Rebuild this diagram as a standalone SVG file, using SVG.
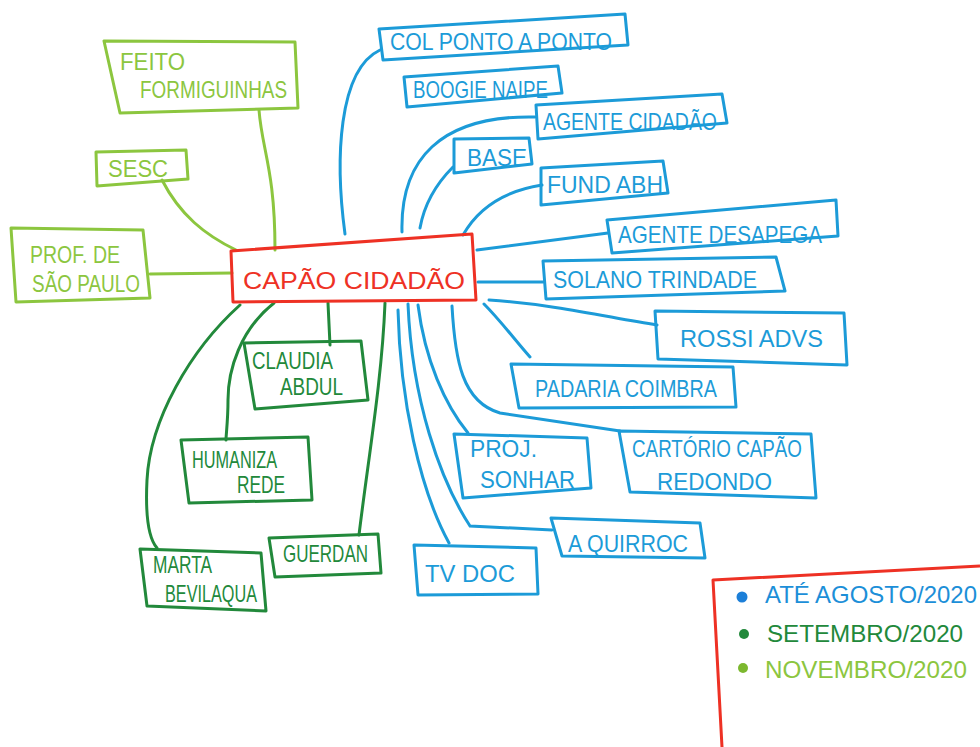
<svg xmlns="http://www.w3.org/2000/svg" width="980" height="747" viewBox="0 0 980 747">
<style>
.box{fill:none;stroke-width:3;stroke-linejoin:round}
.ln{fill:none;stroke-width:3;stroke-linecap:round}
.lime{stroke:#8cc63f}
.dg{stroke:#22893b}
.bl{stroke:#1c9bd8}
.rd{stroke:#ee3124}
text{font-family:"Liberation Sans",Arial,sans-serif;font-size:24px}
.tl{fill:#8cc63f}
.tg{fill:#22893b}
.tb{fill:#1c9bd8}
.tr{fill:#ee3124}
</style>
<rect width="980" height="747" fill="#ffffff"/>
<g id="connectors">
  <path class="ln lime" d="M259,110 C262,150 275,170 275,250"/>
  <path class="ln lime" d="M162,180 C180,215 205,235 236,250"/>
  <path class="ln lime" d="M150,274 L232,273"/>
  <path class="ln dg" d="M240,305 C190,350 150,420 147,480 C145,520 150,540 157,548"/>
  <path class="ln dg" d="M274,303 C240,330 228,370 228,400 C228,420 226,435 226,440"/>
  <path class="ln dg" d="M328,303 L330,345"/>
  <path class="ln dg" d="M385,303 C382,380 368,460 359,535"/>
  <path class="ln bl" d="M345,234 C335,160 338,70 380,50"/>
  <path class="ln bl" d="M402,232 C400,160 440,115 535,117"/>
  <path class="ln bl" d="M420,228 C425,200 440,180 453,167"/>
  <path class="ln bl" d="M463,235 C480,205 510,190 542,185"/>
  <path class="ln bl" d="M477,250 L608,233"/>
  <path class="ln bl" d="M478,282 L543,282"/>
  <path class="ln bl" d="M489,300 C560,305 610,318 657,325"/>
  <path class="ln bl" d="M484,304 C500,320 515,340 530,357"/>
  <path class="ln bl" d="M452,306 C455,360 462,402 500,413 L620,431"/>
  <path class="ln bl" d="M418,305 C425,360 445,405 468,433"/>
  <path class="ln bl" d="M408,304 C412,400 440,480 470,526 L552,530"/>
  <path class="ln bl" d="M398,310 C400,400 420,490 449,543"/>
</g>
<g id="capao-cidadao">
  <polygon class="box rd" points="231,251 472,234 476,300 233,302"/>
  <text class="tr" x="243" y="289" font-size="30" textLength="222" lengthAdjust="spacingAndGlyphs">CAPÃO CIDADÃO</text>
</g>
<g id="feito-formiguinhas">
  <polygon class="box lime" points="104,41 295,42 298,108 120,113"/>
  <text class="tl" x="120" y="70" font-size="20" textLength="65" lengthAdjust="spacingAndGlyphs">FEITO</text>
  <text class="tl" x="140" y="98" font-size="20" textLength="147" lengthAdjust="spacingAndGlyphs">FORMIGUINHAS</text>
</g>
<g id="sesc">
  <polygon class="box lime" points="96,152 186,150 188,179 97,186"/>
  <text class="tl" x="108" y="177" font-size="20" textLength="60" lengthAdjust="spacingAndGlyphs">SESC</text>
</g>
<g id="prof-sao-paulo">
  <polygon class="box lime" points="11,228 143,230 150,298 16,302"/>
  <text class="tl" x="30" y="263" font-size="21" textLength="90" lengthAdjust="spacingAndGlyphs">PROF. DE</text>
  <text class="tl" x="32" y="292" font-size="19" textLength="108" lengthAdjust="spacingAndGlyphs">SÃO PAULO</text>
</g>
<g id="claudia-abdul">
  <polygon class="box dg" points="244,343 361,341 368,400 255,409"/>
  <text class="tg" x="252" y="369" font-size="18" textLength="81" lengthAdjust="spacingAndGlyphs">CLAUDIA</text>
  <text class="tg" x="280" y="395" font-size="15" textLength="63" lengthAdjust="spacingAndGlyphs">ABDUL</text>
</g>
<g id="humaniza-rede">
  <polygon class="box dg" points="181,440 308,437 312,500 189,503"/>
  <text class="tg" x="192" y="468" font-size="19" textLength="85" lengthAdjust="spacingAndGlyphs">HUMANIZA</text>
  <text class="tg" x="237" y="493" font-size="16" textLength="48" lengthAdjust="spacingAndGlyphs">REDE</text>
</g>
<g id="guerdan">
  <polygon class="box dg" points="269,538 378,534 381,573 275,577"/>
  <text class="tg" x="283" y="562" font-size="20" textLength="85" lengthAdjust="spacingAndGlyphs">GUERDAN</text>
</g>
<g id="marta-bevilaqua">
  <polygon class="box dg" points="140,549 261,553 266,611 147,606"/>
  <text class="tg" x="153" y="573" font-size="15" textLength="59" lengthAdjust="spacingAndGlyphs">MARTA</text>
  <text class="tg" x="165" y="602" font-size="21" textLength="92" lengthAdjust="spacingAndGlyphs">BEVILAQUA</text>
</g>
<g id="col-ponto-a-ponto">
  <polygon class="box bl" points="379,29 625,14 628,45 383,60"/>
  <text class="tb" x="390" y="50" font-size="26" textLength="222" lengthAdjust="spacingAndGlyphs">COL PONTO A PONTO</text>
</g>
<g id="boogie-naipe">
  <polygon class="box bl" points="404,77 558,66 562,93 407,107"/>
  <text class="tb" x="413" y="98" font-size="22" textLength="135" lengthAdjust="spacingAndGlyphs">BOOGIE NAIPE</text>
</g>
<g id="agente-cidadao">
  <polygon class="box bl" points="536,105 722,94 727,123 538,139"/>
  <text class="tb" x="543" y="130" font-size="23" textLength="174" lengthAdjust="spacingAndGlyphs">AGENTE CIDADÃO</text>
</g>
<g id="base">
  <polygon class="box bl" points="454,139 529,138 532,164 454,173"/>
  <text class="tb" x="467" y="166" font-size="24" textLength="60" lengthAdjust="spacingAndGlyphs">BASE</text>
</g>
<g id="fund-abh">
  <polygon class="box bl" points="541,168 663,161 668,193 541,205"/>
  <text class="tb" x="547" y="193" font-size="22" textLength="116" lengthAdjust="spacingAndGlyphs">FUND ABH</text>
</g>
<g id="agente-desapega">
  <polygon class="box bl" points="607,220 836,200 838,236 612,253"/>
  <text class="tb" x="618" y="243" font-size="24" textLength="204" lengthAdjust="spacingAndGlyphs">AGENTE DESAPEGA</text>
</g>
<g id="solano-trindade">
  <polygon class="box bl" points="543,261 776,257 785,291 546,299"/>
  <text class="tb" x="553" y="288" font-size="23" textLength="204" lengthAdjust="spacingAndGlyphs">SOLANO TRINDADE</text>
</g>
<g id="rossi-advs">
  <polygon class="box bl" points="655,311 844,313 847,365 658,359"/>
  <text class="tb" x="680" y="347" font-size="27" textLength="143" lengthAdjust="spacingAndGlyphs">ROSSI ADVS</text>
</g>
<g id="padaria-coimbra">
  <polygon class="box bl" points="511,364 733,367 736,407 519,408"/>
  <text class="tb" x="535" y="397" font-size="23" textLength="182" lengthAdjust="spacingAndGlyphs">PADARIA COIMBRA</text>
</g>
<g id="proj-sonhar">
  <polygon class="box bl" points="454,434 587,438 591,488 463,498"/>
  <text class="tb" x="470" y="457" font-size="19" textLength="67" lengthAdjust="spacingAndGlyphs">PROJ.</text>
  <text class="tb" x="480" y="488" font-size="20" textLength="95" lengthAdjust="spacingAndGlyphs">SONHAR</text>
</g>
<g id="cartorio-capao-redondo">
  <polygon class="box bl" points="619,431 811,434 816,498 630,492"/>
  <text class="tb" x="632" y="457" font-size="21" textLength="170" lengthAdjust="spacingAndGlyphs">CARTÓRIO CAPÃO</text>
  <text class="tb" x="657" y="490" font-size="24" textLength="115" lengthAdjust="spacingAndGlyphs">REDONDO</text>
</g>
<g id="a-quirroc">
  <polygon class="box bl" points="551,518 700,523 705,558 562,556"/>
  <text class="tb" x="568" y="552" font-size="23" textLength="120" lengthAdjust="spacingAndGlyphs">A QUIRROC</text>
</g>
<g id="tv-doc">
  <polygon class="box bl" points="414,545 536,548 538,594 418,595"/>
  <text class="tb" x="425" y="582" font-size="32" textLength="90" lengthAdjust="spacingAndGlyphs">TV DOC</text>
</g>
<g id="legend">
  <polyline class="box rd" points="722,747 713,580 980,566"/>
  <circle cx="742" cy="597" r="5.5" fill="#1c7fd8"/>
  <text class="tb" x="765" y="603" font-size="21" textLength="212" lengthAdjust="spacingAndGlyphs" style="fill:#1c8fd8">ATÉ AGOSTO/2020</text>
  <circle cx="744" cy="634" r="5" fill="#22893b"/>
  <text class="tg" x="767" y="642" font-size="20" textLength="196" lengthAdjust="spacingAndGlyphs">SETEMBRO/2020</text>
  <circle cx="743" cy="668" r="5" fill="#7cb82f"/>
  <text class="tl" x="765" y="678" font-size="21" textLength="202" lengthAdjust="spacingAndGlyphs">NOVEMBRO/2020</text>
</g>
</svg>
